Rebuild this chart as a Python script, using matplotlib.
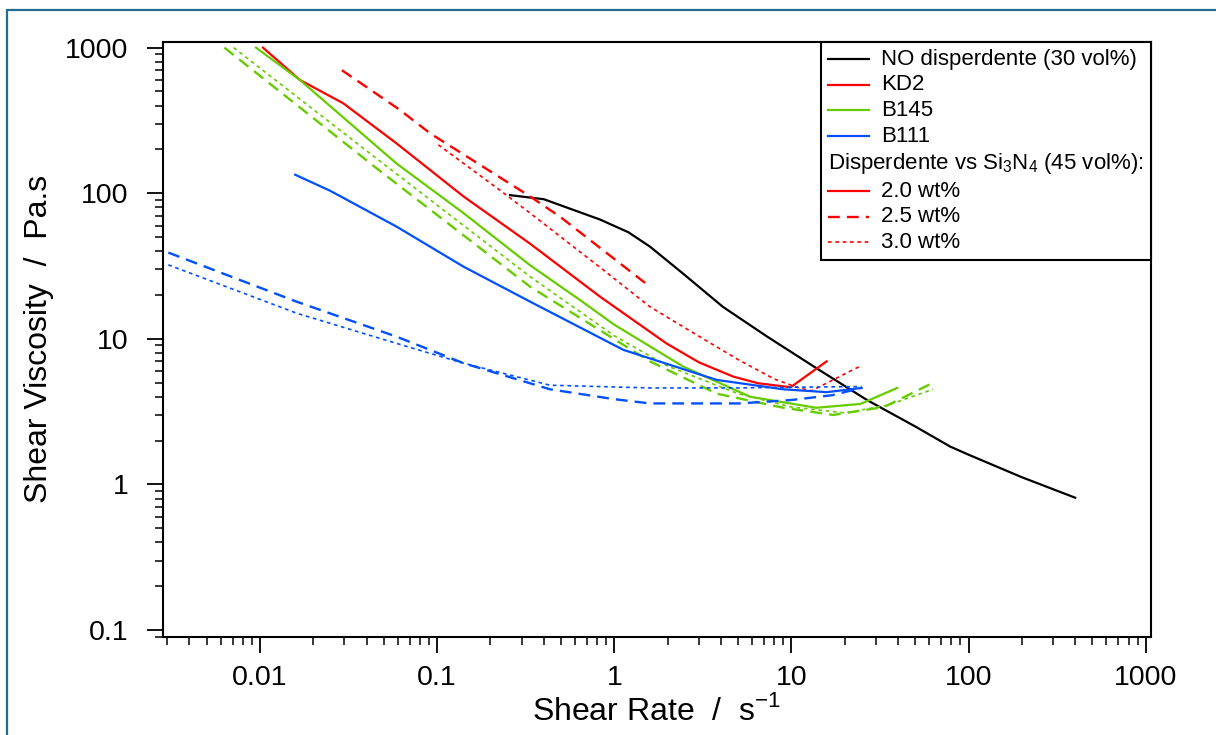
import matplotlib
matplotlib.use("Agg")
import matplotlib.pyplot as plt
from matplotlib import ticker
from matplotlib.lines import Line2D
from matplotlib.patches import Rectangle
from matplotlib.offsetbox import AnchoredOffsetbox, VPacker, HPacker, DrawingArea, TextArea

plt.rcParams["font.family"] = ["Liberation Sans", "DejaVu Sans"]
plt.rcParams["mathtext.fontset"] = "custom"
plt.rcParams["mathtext.rm"] = "Liberation Sans"

# ---- data: shear rate (1/s) and shear viscosity (Pa.s) ----
no_disp_rate = [0.258, 0.40, 0.83, 1.2, 1.59, 2.45, 4.1, 7.26, 13.8, 26.7, 50, 78.7, 100, 200, 400]
no_disp_visc = [97, 91, 66, 54, 43, 28, 16.6, 10.4, 6.3, 3.8, 2.5, 1.82, 1.6, 1.12, 0.81]

kd2_20_rate = [0.0104, 0.0168, 0.0295, 0.059, 0.141, 0.335, 0.83, 1.97, 3.0, 4.7, 6.5, 9.9, 15.8]
kd2_20_visc = [1000, 600, 415, 220, 95, 45, 19.5, 9.3, 6.9, 5.5, 4.95, 4.65, 7.0]

kd2_25_rate = [0.029, 0.0617, 0.0912, 0.335, 0.494, 1.59]
kd2_25_visc = [700, 373, 258, 95, 69, 22.8]

kd2_30_rate = [0.1016, 0.226, 0.335, 0.83, 1.59, 3.05, 5.0, 8.0, 11, 13, 24.5]
kd2_30_visc = [215, 105, 73, 31, 16.6, 10.3, 7.2, 5.3, 4.6, 4.4, 6.5]

b145_20_rate = [0.0095, 0.0168, 0.059, 0.141, 0.335, 0.66, 1.0, 2.45, 5.85, 13.8, 24.5, 39.6]
b145_20_visc = [1000, 600, 160, 73, 32, 18.0, 12.5, 6.45, 4.0, 3.36, 3.57, 4.6]

b145_25_rate = [0.0063, 0.045, 0.335, 1.59, 3.79, 9.0, 17.2, 33.3, 63.2]
b145_25_visc = [1000, 150, 22.8, 7.0, 4.2, 3.36, 3.0, 3.4, 5.0]

b145_30_rate = [0.0071, 0.045, 0.335, 1.0, 2.0, 5.0, 10, 20, 35, 63]
b145_30_visc = [1000, 175, 26.7, 10.5, 6.5, 4.2, 3.4, 3.1, 3.5, 4.5]

b111_20_rate = [0.0158, 0.0249, 0.059, 0.141, 0.335, 1.125, 3.79, 9.0, 15.8, 24.9]
b111_20_visc = [134, 104, 59, 31.3, 18.0, 8.4, 5.22, 4.5, 4.3, 4.6]

b111_25_rate = [0.00304, 0.0161, 0.059, 0.141, 0.434, 1.0, 1.59, 5.1, 10, 17, 24.9]
b111_25_visc = [39.1, 18.0, 10.35, 6.8, 4.5, 3.85, 3.6, 3.6, 3.8, 4.1, 4.6]

b111_30_rate = [0.00304, 0.0161, 0.059, 0.141, 0.434, 1.59, 5, 10, 24.9]
b111_30_visc = [32.2, 15.0, 9.3, 6.8, 4.8, 4.6, 4.6, 4.65, 4.7]

x_ticks = [0.01, 0.1, 1, 10, 100, 1000]
x_tick_labels = ["0.01", "0.1", "1", "10", "100", "1000"]
y_ticks = [0.1, 1, 10, 100, 1000]
y_tick_labels = ["0.1", "1", "10", "100", "1000"]

RED, GREEN, BLUE, BLACK = "#ff0000", "#66cc00", "#0050ff", "#000000"
SOLID = dict(ls="-", lw=1.6)
DASHED = dict(ls=(0, (5, 3)), lw=1.7)
DOTTED = dict(ls=(0, (2.2, 2.2)), lw=1.2)

fig = plt.figure(figsize=(12.16, 7.35), dpi=100)
ax = fig.add_axes([0.1338, 0.1337, 0.9463 - 0.1338, 0.9433 - 0.1337])

ax.plot(no_disp_rate, no_disp_visc, color=BLACK, **SOLID)
ax.plot(kd2_20_rate, kd2_20_visc, color=RED, **SOLID)
ax.plot(kd2_25_rate, kd2_25_visc, color=RED, **DASHED)
ax.plot(kd2_30_rate, kd2_30_visc, color=RED, **DOTTED)
ax.plot(b145_20_rate, b145_20_visc, color=GREEN, **SOLID)
ax.plot(b145_25_rate, b145_25_visc, color=GREEN, **DASHED)
ax.plot(b145_30_rate, b145_30_visc, color=GREEN, **DOTTED)
ax.plot(b111_20_rate, b111_20_visc, color=BLUE, **SOLID)
ax.plot(b111_25_rate, b111_25_visc, color=BLUE, **DASHED)
ax.plot(b111_30_rate, b111_30_visc, color=BLUE, **DOTTED)

ax.set_xscale("log")
ax.set_yscale("log")
ax.set_xlim(0.002825, 1067)
ax.set_ylim(0.0899, 1099)

ax.xaxis.set_major_locator(ticker.FixedLocator(x_ticks))
ax.xaxis.set_major_formatter(ticker.FixedFormatter(x_tick_labels))
ax.yaxis.set_major_locator(ticker.FixedLocator(y_ticks))
ax.yaxis.set_major_formatter(ticker.FixedFormatter(y_tick_labels))
ax.xaxis.set_minor_locator(ticker.LogLocator(base=10, subs=range(2, 10), numticks=20))
ax.yaxis.set_minor_locator(ticker.LogLocator(base=10, subs=range(2, 10), numticks=20))
ax.xaxis.set_minor_formatter(ticker.NullFormatter())
ax.yaxis.set_minor_formatter(ticker.NullFormatter())

ax.tick_params(which="major", direction="out", length=11.5, width=1.3, labelsize=20.5)
ax.tick_params(which="minor", direction="out", length=5.5, width=1.1)
ax.tick_params(axis="y", which="major", pad=13)
ax.tick_params(axis="x", which="major", pad=9)
for sp in ax.spines.values():
    sp.set_linewidth(1.5)

ax.set_xlabel(r"Shear Rate  /  s$^{\mathregular{-1}}$", fontsize=23, labelpad=3)
ax.set_ylabel("Shear Viscosity  /  Pa.s", fontsize=23, labelpad=8)

# ---- legend built from offset boxes so the group header sits flush left ----
def legend_row(label, color, style):
    da = DrawingArea(29.5, 12, 0, 0)
    da.add_artist(Line2D([0, 29.5], [6, 6], color=color,
                         ls=style["ls"], lw=style["lw"]))
    txt = TextArea(label, textprops=dict(fontsize=16))
    return HPacker(children=[da, txt], sep=8.5, align="center", pad=0)

rows = [
    legend_row("NO disperdente (30 vol%)", BLACK, SOLID),
    legend_row("KD2", RED, SOLID),
    legend_row("B145", GREEN, SOLID),
    legend_row("B111", BLUE, SOLID),
    TextArea(r"Disperdente vs Si$_\mathregular{3}$N$_\mathregular{4}$ (45 vol%):",
             textprops=dict(fontsize=16)),
    legend_row("2.0 wt%", RED, SOLID),
    legend_row("2.5 wt%", RED, DASHED),
    legend_row("3.0 wt%", RED, DOTTED),
]
box = VPacker(children=rows, sep=3.3, align="left", pad=0)
leg = AnchoredOffsetbox(loc="upper right", child=box, pad=0.32, borderpad=0,
                        frameon=True, bbox_to_anchor=(1, 1),
                        bbox_transform=ax.transAxes, prop=dict(size=16))
leg.patch.set_edgecolor("black")
leg.patch.set_linewidth(1.5)
leg.patch.set_boxstyle("square", pad=0)
leg.set_zorder(5)
ax.add_artist(leg)

# figure frame
fig.patches.append(Rectangle((7 / 1216, -0.1), 1.2, 1 - 10 / 735 + 0.1,
                             transform=fig.transFigure, fill=False,
                             edgecolor="#226c91", lw=1.6, zorder=0))

fig.savefig("out.png", dpi=100)
